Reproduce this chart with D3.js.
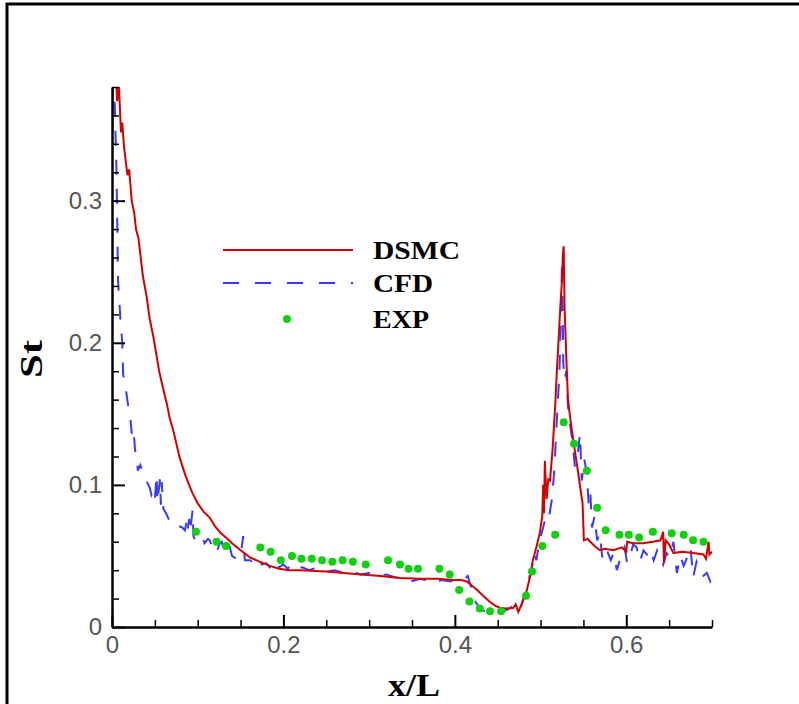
<!DOCTYPE html>
<html>
<head>
<meta charset="utf-8">
<script src="https://cdn.jsdelivr.net/npm/d3@7"></script>
<style>
  body { margin: 0; background: #fff; }
  svg { display: block; }
  .tick text { font-family: "Liberation Sans", Arial, sans-serif; font-size: 24px; fill: #555; }
  .legend text { font-family: "Liberation Serif", "Times New Roman", serif; font-size: 25px; font-weight: bold; fill: #000; }
</style>
</head>
<body>
<div id="chart"></div>
<script>
// DSMC curve (x/L, St)
const dsmcX = [0.000, 0.001, 0.004, 0.006, 0.008, 0.0105, 0.012, 0.014, 0.018, 0.020, 0.023, 0.026, 0.028, 0.031, 0.036, 0.040, 0.044, 0.048, 0.052, 0.055, 0.060, 0.064, 0.067, 0.072, 0.079, 0.086, 0.094, 0.100, 0.107, 0.114, 0.120, 0.127, 0.133, 0.140, 0.150, 0.161, 0.172, 0.184, 0.195, 0.207, 0.220, 0.231, 0.250, 0.270, 0.290, 0.310, 0.336, 0.360, 0.380, 0.398, 0.407, 0.414, 0.420, 0.426, 0.433, 0.441, 0.447, 0.453, 0.460, 0.468, 0.471, 0.474, 0.478, 0.484, 0.488, 0.491, 0.495, 0.499, 0.502, 0.503, 0.504, 0.505, 0.507, 0.509, 0.511, 0.514, 0.517, 0.519, 0.521, 0.523, 0.525, 0.526, 0.527, 0.528, 0.530, 0.532, 0.535, 0.538, 0.541, 0.544, 0.547, 0.549, 0.5505, 0.555, 0.558, 0.563, 0.569, 0.575, 0.585, 0.595, 0.600, 0.601, 0.608, 0.620, 0.631, 0.640, 0.643, 0.644, 0.646, 0.650, 0.655, 0.665, 0.678, 0.690, 0.693, 0.696, 0.697, 0.700];
const dsmcY = [0.330, 0.385, 0.395, 0.370, 0.382, 0.348, 0.355, 0.338, 0.318, 0.322, 0.300, 0.291, 0.280, 0.273, 0.247, 0.234, 0.217, 0.205, 0.191, 0.180, 0.167, 0.157, 0.148, 0.137, 0.119, 0.106, 0.094, 0.087, 0.081, 0.077, 0.071, 0.066, 0.063, 0.059, 0.054, 0.049, 0.046, 0.043, 0.041, 0.040, 0.040, 0.0396, 0.039, 0.038, 0.037, 0.036, 0.0345, 0.034, 0.034, 0.033, 0.033, 0.032, 0.029, 0.026, 0.022, 0.0176, 0.015, 0.0134, 0.013, 0.0134, 0.016, 0.0106, 0.016, 0.026, 0.036, 0.047, 0.056, 0.066, 0.078, 0.100, 0.080, 0.117, 0.090, 0.104, 0.103, 0.125, 0.155, 0.180, 0.202, 0.225, 0.244, 0.262, 0.268, 0.225, 0.190, 0.160, 0.145, 0.132, 0.120, 0.108, 0.095, 0.087, 0.061, 0.062, 0.060, 0.057, 0.054, 0.055, 0.054, 0.056, 0.053, 0.060, 0.059, 0.059, 0.060, 0.061, 0.067, 0.045, 0.061, 0.058, 0.052, 0.053, 0.052, 0.051, 0.048, 0.060, 0.051, 0.053];

// CFD curve
const cfdX = [0.002, 0.0035, 0.005, 0.006, 0.007, 0.010, 0.012, 0.013, 0.016, 0.019, 0.021, 0.023, 0.025, 0.027, 0.029, 0.030, 0.033, 0.036, 0.040, 0.044, 0.046, 0.048, 0.050, 0.052, 0.053, 0.056, 0.057, 0.058, 0.060, 0.063, 0.066, 0.070, 0.073, 0.078, 0.082, 0.085, 0.087, 0.088, 0.090, 0.091, 0.094, 0.095, 0.097, 0.100, 0.105, 0.108, 0.112, 0.114, 0.118, 0.122, 0.125, 0.128, 0.130, 0.133, 0.137, 0.140, 0.145, 0.150, 0.153, 0.155, 0.161, 0.165, 0.170, 0.175, 0.180, 0.184, 0.190, 0.195, 0.200, 0.205, 0.209, 0.215, 0.222, 0.230, 0.240, 0.250, 0.260, 0.270, 0.280, 0.290, 0.300, 0.310, 0.320, 0.330, 0.336, 0.348, 0.360, 0.375, 0.385, 0.395, 0.404, 0.410, 0.415, 0.420, 0.424, 0.430, 0.445, 0.455, 0.461, 0.466, 0.470, 0.476, 0.482, 0.486, 0.491, 0.493, 0.495, 0.499, 0.503, 0.507, 0.510, 0.513, 0.516, 0.519, 0.522, 0.524, 0.525, 0.526, 0.5265, 0.528, 0.530, 0.532, 0.535, 0.537, 0.540, 0.543, 0.546, 0.548, 0.551, 0.554, 0.556, 0.558, 0.560, 0.563, 0.566, 0.569, 0.572, 0.575, 0.578, 0.582, 0.585, 0.589, 0.593, 0.598, 0.601, 0.604, 0.608, 0.612, 0.616, 0.620, 0.624, 0.628, 0.632, 0.636, 0.640, 0.643, 0.647, 0.651, 0.655, 0.659, 0.663, 0.667, 0.671, 0.675, 0.678, 0.682, 0.686, 0.690, 0.694, 0.698, 0.700];
const cfdY = [0.390, 0.362, 0.326, 0.291, 0.244, 0.215, 0.200, 0.178, 0.168, 0.155, 0.150, 0.136, 0.140, 0.124, 0.122, 0.110, 0.114, 0.109, 0.103, 0.098, 0.093, 0.096, 0.090, 0.107, 0.088, 0.104, 0.086, 0.102, 0.083, 0.080, 0.076, 0.074, 0.075, 0.071, 0.070, 0.068, 0.074, 0.067, 0.076, 0.067, 0.082, 0.064, 0.061, 0.063, 0.064, 0.059, 0.062, 0.061, 0.055, 0.052, 0.058, 0.060, 0.055, 0.052, 0.057, 0.050, 0.048, 0.050, 0.064, 0.047, 0.047, 0.045, 0.049, 0.044, 0.045, 0.042, 0.047, 0.042, 0.044, 0.041, 0.044, 0.041, 0.042, 0.040, 0.042, 0.039, 0.040, 0.038, 0.039, 0.037, 0.038, 0.036, 0.037, 0.035, 0.0345, 0.032, 0.034, 0.031, 0.033, 0.032, 0.0345, 0.033, 0.036, 0.026, 0.018, 0.012, 0.0098, 0.011, 0.012, 0.014, 0.0155, 0.012, 0.024, 0.033, 0.045, 0.052, 0.047, 0.061, 0.070, 0.080, 0.078, 0.089, 0.110, 0.146, 0.179, 0.225, 0.258, 0.214, 0.186, 0.174, 0.180, 0.155, 0.140, 0.132, 0.113, 0.120, 0.136, 0.103, 0.118, 0.108, 0.087, 0.095, 0.070, 0.078, 0.061, 0.066, 0.049, 0.056, 0.053, 0.047, 0.052, 0.040, 0.048, 0.056, 0.045, 0.049, 0.058, 0.056, 0.046, 0.054, 0.051, 0.055, 0.047, 0.054, 0.050, 0.044, 0.052, 0.049, 0.060, 0.038, 0.050, 0.043, 0.049, 0.056, 0.035, 0.046, 0.040, 0.036, 0.038, 0.032, 0.034];

// experiment points
const expX = [0.098, 0.122, 0.133, 0.173, 0.185, 0.197, 0.210, 0.221, 0.233, 0.245, 0.257, 0.269, 0.281, 0.296, 0.322, 0.336, 0.346, 0.357, 0.382, 0.394, 0.405, 0.417, 0.429, 0.441, 0.454, 0.483, 0.490, 0.502, 0.517, 0.527, 0.539, 0.554, 0.566, 0.576, 0.592, 0.603, 0.615, 0.631, 0.653, 0.667, 0.678, 0.690];
const expY = [0.067, 0.060, 0.057, 0.056, 0.053, 0.047, 0.050, 0.048, 0.048, 0.047, 0.046, 0.047, 0.046, 0.044, 0.047, 0.044, 0.041, 0.041, 0.041, 0.037, 0.026, 0.018, 0.013, 0.011, 0.011, 0.022, 0.039, 0.057, 0.065, 0.144, 0.129, 0.110, 0.084, 0.068, 0.065, 0.065, 0.063, 0.067, 0.066, 0.065, 0.061, 0.060];

const xMajor = [0, 0.2, 0.4, 0.6];
const xMinor = [0.05, 0.1, 0.15, 0.25, 0.3, 0.35, 0.45, 0.5, 0.55, 0.65, 0.7];
const yMajor = [0, 0.1, 0.2, 0.3];
const yMinor = [0.02, 0.04, 0.06, 0.08, 0.12, 0.14, 0.16, 0.18, 0.22, 0.24, 0.26, 0.28, 0.32, 0.34, 0.36, 0.38];

const legendNames = ["DSMC", "CFD", "EXP"];

const W = 799, H = 704;
const red = "#d40000", blue = "#3a3aff", green = "#10d010";

const svg = d3.select("#chart").append("svg")
    .attr("width", W)
    .attr("height", H);

// outer frame (only top + left visible)
svg.append("path")
    .attr("d", "M7,704 L7,4 L799,4")
    .attr("fill", "none")
    .attr("stroke", "#000")
    .attr("stroke-width", 3);

const x = d3.scaleLinear().domain([0, 0.7]).range([112, 712]);
const y = d3.scaleLinear().domain([0, 0.38]).range([627, 87]);

svg.append("clipPath").attr("id", "plotclip")
    .append("rect")
    .attr("x", x(0)).attr("y", y(0.38))
    .attr("width", x(0.7) - x(0)).attr("height", y(0) - y(0.38));

const plot = svg.append("g").attr("clip-path", "url(#plotclip)");

const line = d3.line().x(d => x(d[0])).y(d => y(d[1]));

plot.append("path")
    .datum(cfdX.map((v, i) => [v, cfdY[i]]))
    .attr("d", line)
    .attr("fill", "none")
    .attr("stroke", blue)
    .attr("stroke-width", 2)
    .attr("stroke-dasharray", "15,14");

plot.append("path")
    .datum(dsmcX.map((v, i) => [v, dsmcY[i]]))
    .attr("d", line)
    .attr("fill", "none")
    .attr("stroke", red)
    .attr("stroke-width", 2);

plot.selectAll("circle.exp")
    .data(expX.map((v, i) => [v, expY[i]]))
    .enter()
    .append("circle")
    .attr("class", "exp")
    .attr("cx", d => x(d[0]))
    .attr("cy", d => y(d[1]))
    .attr("r", 4)
    .attr("fill", green);

const fmt = d => d === 0 ? "0" : d.toFixed(1);

// minor ticks
svg.append("g")
    .attr("transform", `translate(0,${y(0)})`)
    .call(d3.axisBottom(x).tickValues(xMinor).tickSize(-7).tickFormat(""))
    .call(g => g.select(".domain").remove());
svg.append("g")
    .attr("transform", `translate(${x(0)},0)`)
    .call(d3.axisLeft(y).tickValues(yMinor).tickSize(-7).tickFormat(""))
    .call(g => g.select(".domain").remove());

// major ticks + axis lines
const xAxis = svg.append("g")
    .attr("transform", `translate(0,${y(0)})`)
    .call(d3.axisBottom(x).tickValues(xMajor).tickSizeInner(-12).tickSizeOuter(0).tickPadding(9).tickFormat(fmt));
const yAxis = svg.append("g")
    .attr("transform", `translate(${x(0)},0)`)
    .call(d3.axisLeft(y).tickValues(yMajor).tickSizeInner(-13).tickSizeOuter(0).tickPadding(10).tickFormat(fmt));

svg.selectAll(".domain").attr("stroke", "#000").attr("stroke-width", 2.5);
svg.selectAll(".tick line").attr("stroke", "#000").attr("stroke-width", 1.5);
[xAxis, yAxis].forEach(a => a.selectAll(".tick line").attr("stroke-width", 2));

// axis titles
svg.append("text")
    .attr("x", 414).attr("y", 696)
    .attr("text-anchor", "middle")
    .attr("font-family", "Liberation Serif, serif")
    .attr("font-weight", "bold")
    .attr("font-size", 32)
    .attr("textLength", 52)
    .attr("lengthAdjust", "spacingAndGlyphs")
    .text("x/L");

svg.append("text")
    .attr("transform", "translate(42,359) rotate(-90)")
    .attr("text-anchor", "middle")
    .attr("font-family", "Liberation Serif, serif")
    .attr("font-weight", "bold")
    .attr("font-size", 32)
    .attr("textLength", 38)
    .attr("lengthAdjust", "spacingAndGlyphs")
    .text("St");

// legend
const legend = svg.append("g").attr("class", "legend");
const rowY = [250, 283, 319];
const textW = [87, 60, 56];

legend.append("line")
    .attr("x1", 223).attr("x2", 353)
    .attr("y1", rowY[0]).attr("y2", rowY[0])
    .attr("stroke", red).attr("stroke-width", 2);
legend.append("line")
    .attr("x1", 223).attr("x2", 353)
    .attr("y1", rowY[1]).attr("y2", rowY[1])
    .attr("stroke", blue).attr("stroke-width", 2)
    .attr("stroke-dasharray", "16,16");
legend.append("circle")
    .attr("cx", 287).attr("cy", rowY[2]).attr("r", 4)
    .attr("fill", green);

legend.selectAll("text")
    .data(legendNames)
    .enter()
    .append("text")
    .attr("x", 373)
    .attr("y", (d, i) => rowY[i] + 9)
    .attr("textLength", (d, i) => textW[i])
    .attr("lengthAdjust", "spacingAndGlyphs")
    .text(d => d);
</script>
</body>
</html>
